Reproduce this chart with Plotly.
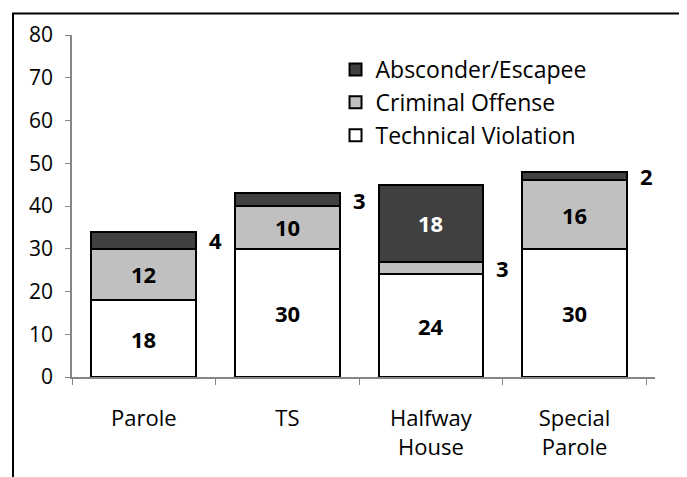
import plotly.graph_objects as go

categories = ["Parole", "TS", "Halfway<br>House", "Special<br>Parole"]
technical = [18, 30, 24, 30]
criminal = [12, 10, 3, 16]
absconder = [4, 3, 18, 2]

series = [
    ("Technical Violation", technical, "#FFFFFF", "black"),
    ("Criminal Offense", criminal, "#C0C0C0", "black"),
    ("Absconder/Escapee", absconder, "#404040", "white"),
]

FONT = "Open Sans"
fig = go.Figure()
for name, vals, color, tcolor in series:
    fig.add_trace(go.Bar(
        x=categories, y=vals, name=name,
        marker=dict(color=color, line=dict(color="black", width=2)),
        width=0.73,
    ))

# data labels
base = [0] * len(categories)
for name, vals, color, tcolor in series:
    for i, v in enumerate(vals):
        mid = base[i] + v / 2
        if v >= 8:
            fig.add_annotation(x=categories[i], y=mid, text=f"<b>{v}</b>", showarrow=False,
                               font=dict(family=FONT, size=22, color=tcolor))
        else:
            fig.add_annotation(x=categories[i], y=mid, text=f"<b>{v}</b>", showarrow=False,
                               xshift=72, font=dict(family=FONT, size=22, color="black"))
        base[i] += v

fig.update_layout(
    barmode="stack",
    width=679, height=469,
    margin=dict(l=64, r=32, t=21, b=100),
    plot_bgcolor="white", paper_bgcolor="white",
    font=dict(family=FONT, size=21, color="black"),
    showlegend=True,
    legend=dict(x=0.452, y=0.962, xanchor="left", yanchor="top", traceorder="reversed",
                bgcolor="rgba(0,0,0,0)", font=dict(family=FONT, size=23), tracegroupgap=0),
    xaxis=dict(type="category", showline=True, linecolor="#868686", linewidth=1.5,
               ticks="outside", tickson="boundaries", ticklen=6, tickcolor="#868686",
               showgrid=False, tickfont=dict(family=FONT, size=22), ticklabelstandoff=21),
    yaxis=dict(range=[0, 80], dtick=10, showline=True, linecolor="#868686", linewidth=1.5,
               ticks="outside", ticklen=5, tickcolor="#868686", showgrid=False,
               zeroline=False, tickfont=dict(family=FONT, size=21), ticklabelstandoff=8),
    shapes=[dict(type="rect", xref="paper", yref="paper",
                 x0=-0.1012, x1=1.048, y0=-0.3, y1=1.0632,
                 line=dict(color="black", width=2), fillcolor="rgba(0,0,0,0)", layer="below")],
)

fig.write_html("out.html")
